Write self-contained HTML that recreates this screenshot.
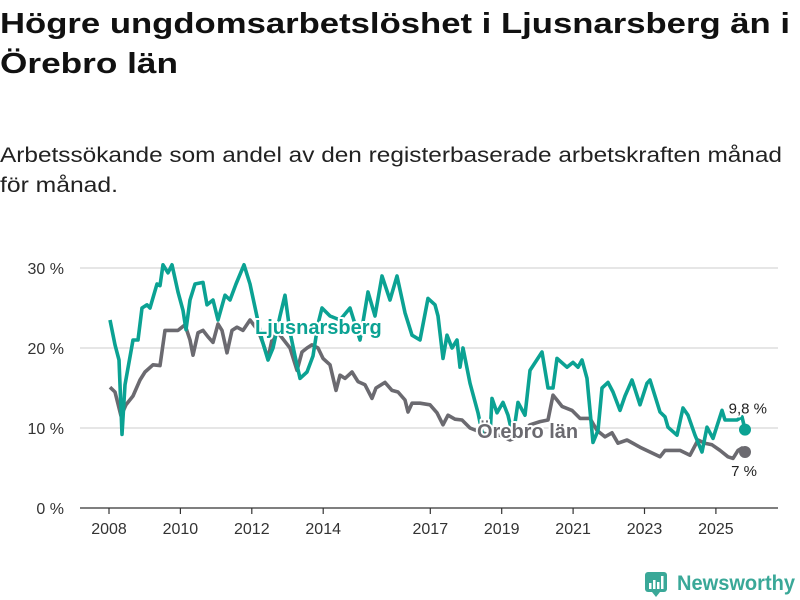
<!DOCTYPE html>
<html><head><meta charset="utf-8"><style>
html,body{margin:0;padding:0;background:#fff;}
svg{display:block;font-family:"Liberation Sans","DejaVu Sans",sans-serif;}
</style></head><body>
<svg id="chart" width="800" height="600" viewBox="0 0 800 600">
<text x="0" y="33" font-size="29" font-weight="bold" fill="#111" textLength="790" lengthAdjust="spacingAndGlyphs">Högre ungdomsarbetslöshet i Ljusnarsberg än i</text>
<text x="0" y="73" font-size="29" font-weight="bold" fill="#111" textLength="178" lengthAdjust="spacingAndGlyphs">Örebro län</text>
<text x="0" y="162" font-size="21" fill="#222" textLength="782" lengthAdjust="spacingAndGlyphs">Arbetssökande som andel av den registerbaserade arbetskraften månad</text>
<text x="0" y="192" font-size="21" fill="#222" textLength="118" lengthAdjust="spacingAndGlyphs">för månad.</text>
<g id="grid"></g><g id="xaxis"></g><g id="lines"></g><g id="labels"></g>
<g>
<rect x="645" y="572" width="22" height="20" rx="3" fill="#3aa898"/>
<path d="M652 592 L656 597 L660 592 Z" fill="#3aa898"/>
<rect x="649" y="583" width="2.5" height="6" fill="#fff"/><rect x="653" y="580" width="2.5" height="9" fill="#fff"/><rect x="657" y="582" width="2.5" height="7" fill="#fff"/><rect x="661" y="576" width="2.5" height="13" fill="#fff"/>
<text x="677" y="590" font-size="21" fill="#3aa898" font-weight="bold" textLength="118" lengthAdjust="spacingAndGlyphs">Newsworthy</text>
</g>
</svg>
<script>
const yTicks = [0, 10, 20, 30];
const yTickLabels = ["0 %", "10 %", "20 %", "30 %"];
const xTicks = [2008, 2010, 2012, 2014, 2017, 2019, 2021, 2023, 2025];
const xTickLabels = ["2008","2010","2012","2014","2017","2019","2021","2023","2025"];
const ljusPx = [[110,23.5],[115,20.4],[119,18.5],[122,9.2],[125,15.4],[133,21],[138,21],[142,25],[147,25.4],[150,25],[157,28],[160,27.8],[163,30.4],[168,29.4],[172,30.4],[178,27],[183,24.7],[186,22.3],[190,26],[195,28],[203,28.2],[207,25.4],[213,26],[218,23.5],[225,26.6],[230,26],[236,28],[244,30.4],[250,28],[256,24.5],[262,21],[268,18.5],[273,20],[280,24],[285,26.6],[290,22],[295,19],[300,16.2],[307,17],[313,19],[318,23],[322,25],[330,24],[340,23.5],[350,25],[360,21],[368,27],[375,24],[382,29],[390,26],[397,29],[405,24.4],[412,21.6],[420,21],[428,26.2],[435,25.4],[438,24],[443,18.7],[447,21.6],[452,20],[457,21],[460,17.6],[463,20],[470,15.6],[478,11.9],[483,8.9],[490,9],[492,13.7],[497,11.9],[503,13.2],[508,11.6],[513,8.9],[518,13.2],[525,11.6],[530,17.2],[542,19.5],[548,15],[553,15],[557,18.7],[567,17.6],[573,18.2],[578,17.6],[582,18.5],[587,16.2],[593,8.2],[598,9.7],[602,15],[608,15.7],[613,14.5],[620,12.2],[625,14],[632,16],[640,12.9],[647,15.6],[650,16],[660,12],[665,11.4],[668,10.1],[677,9.1],[683,12.5],[688,11.6],[695,9.1],[702,7],[707,10.1],[713,8.7],[722,12.2],[725,11],[737,11],[742,11.4],[745,9.8]];
const orePx = [[110,15.1],[115,14.5],[121,11.5],[126,12.9],[133,14],[140,16],[145,17],[153,17.9],[160,17.8],[165,22.2],[172,22.2],[178,22.2],[185,22.9],[190,21],[193,19.1],[198,21.9],[203,22.2],[208,21.4],[213,20.7],[218,23],[222,22.2],[227,19.4],[232,22.2],[237,22.6],[243,22.2],[250,23.5],[258,22.2],[263,20.6],[268,18.7],[274,22.2],[280,21.6],[290,20],[297,17.2],[302,19.5],[307,20],[312,20.4],[318,20],[323,18.7],[330,17.9],[336,14.7],[340,16.6],[345,16.2],[352,17],[358,15.8],[365,15.4],[372,13.7],[376,15],[385,15.7],[392,14.7],[398,14.5],[405,13.5],[408,12],[412,13.1],[420,13.1],[430,12.9],[437,11.9],[443,10.4],[448,11.6],[455,11.1],[462,11],[470,10],[480,9.5],[490,9.1],[500,9.1],[510,8.5],[520,9.1],[530,10.4],[540,10.8],[548,11],[553,14.1],[557,13.5],[562,12.7],[572,12.2],[580,11.2],[590,11.2],[597,9.7],[605,8.9],[612,9.4],[618,8.1],[627,8.5],[640,7.6],[650,7.0],[660,6.4],[665,7.2],[680,7.2],[690,6.6],[698,8.5],[705,8.1],[712,7.9],[720,7.2],[728,6.4],[733,6.2],[738,7.2],[742,7.5],[745,7.0]];
const ljusDates = ljusPx.map(d => +(2008 + (d[0]-109)/35.7).toFixed(3));
const ljusValues = ljusPx.map(d => d[1]);
const oreDates = orePx.map(d => +(2008 + (d[0]-109)/35.7).toFixed(3));
const oreValues = orePx.map(d => d[1]);

const NS = "http://www.w3.org/2000/svg";
const xScale = t => 109 + (t - 2008) * 35.7;
const yScale = v => 508 - v * 8;
function mk(tag, attrs, parent){const e=document.createElementNS(NS,tag);for(const k in attrs)e.setAttribute(k,attrs[k]);parent.appendChild(e);return e;}
const grid=document.getElementById('grid'), xa=document.getElementById('xaxis'), lines=document.getElementById('lines'), labels=document.getElementById('labels');
yTicks.forEach((v,i)=>{
  const l=mk('line',{x1:80,x2:778,y1:yScale(v),y2:yScale(v),stroke:v===0?'#333':'#ddd','stroke-width':v===0?1.2:1.5},grid);
  
  
  const t=mk('text',{x:64,y:yScale(v)+6,'font-size':16,fill:'#333','text-anchor':'end'},grid);
  t.textContent=yTickLabels[i];
  
  
});
xTicks.forEach((v,i)=>{
  const x=xScale(v);
  const l=mk('line',{x1:x,x2:x,y1:508,y2:514,stroke:'#333','stroke-width':1.2},xa);
  
  
  const t=mk('text',{x:x,y:534,'font-size':16,fill:'#333','text-anchor':'middle'},xa);
  t.textContent=xTickLabels[i];
  
  
});
function series(dates, vals, color, name){
  const d=dates.map((t,i)=>(i?'L':'M')+xScale(t).toFixed(1)+' '+yScale(vals[i]).toFixed(1)).join(' ');
  const p=mk('path',{d:d,fill:'none',stroke:color,'stroke-width':3.6,'stroke-linejoin':'round'},lines);
  
  
  const n=dates.length-1;
  const c=mk('circle',{cx:xScale(dates[n]),cy:yScale(vals[n]),r:6,fill:color},lines);
  
  
  return [xScale(dates[n]),yScale(vals[n]),vals[n]];
}
const o=series(oreDates,oreValues,'#6b6a70','orebro');
const l=series(ljusDates,ljusValues,'#0ba293','ljusnarsberg');
function lab(x,y,txt,color,name,bold,anchor,size){
  const t=mk('text',{x:x,y:y,'font-size':size,fill:color,'font-weight':bold?'bold':'normal','text-anchor':anchor||'start',stroke:'#fff','stroke-width':4,'paint-order':'stroke','stroke-linejoin':'round'},labels);
  t.textContent=txt;
  
  
}
lab(255,334,'Ljusnarsberg','#0ba293','ljusnarsberg-label',true,'start',20);
lab(477,438,'Örebro län','#6b6a70','orebro-label',true,'start',20);
lab(l[0]+22,l[1]-16,String(l[2]).replace('.',',')+' %','#222','ljusnarsberg-value-label',false,'end',15);
lab(o[0]+12,o[1]+24,String(o[2]).replace('.0','').replace('.',',')+' %','#222','orebro-value-label',false,'end',15);
</script>
</body></html>
